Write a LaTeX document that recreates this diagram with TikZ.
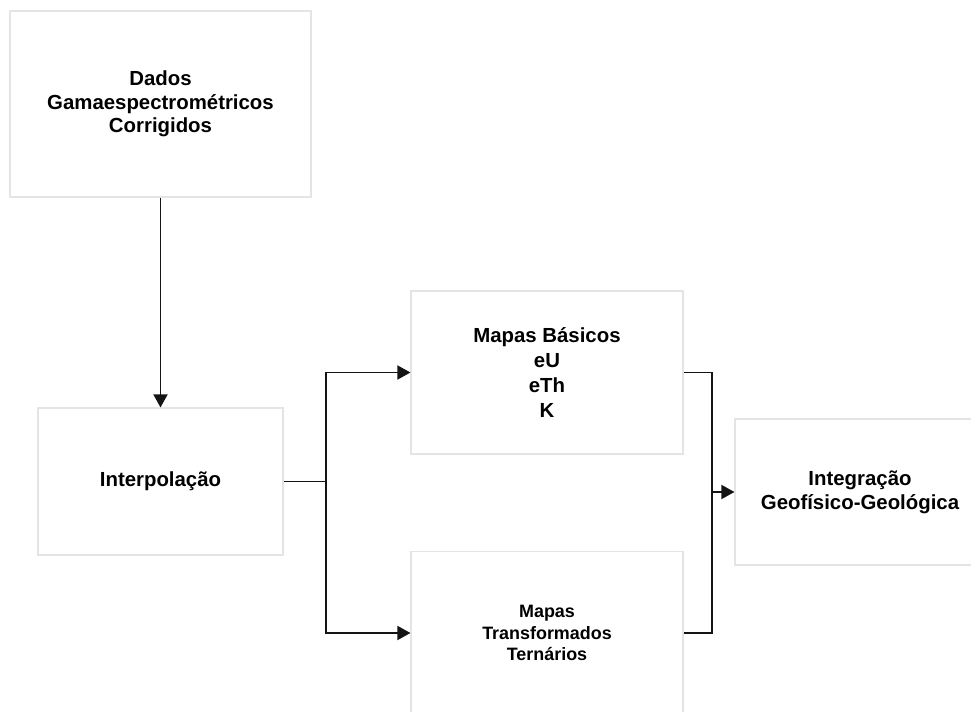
\documentclass[tikz,border=0pt]{standalone}
\usepackage{fontspec}
\setmainfont{Liberation Sans}
\usepackage{xcolor}
\usepackage{tikz}
\usetikzlibrary{arrows.meta,shadows}
\definecolor{FlowEdge}{HTML}{E4E4E4}
\definecolor{FlowLine}{HTML}{141414}

\begin{document}
\begin{tikzpicture}[x=1cm,y=1cm,
  flowbox/.style={draw=FlowEdge,line width=0.6pt,fill=white,align=center,
    inner sep=0pt,font=\bfseries\fontsize{11.6}{13.5}\selectfont,
    drop shadow={opacity=0.06,shadow xshift=0.6pt,shadow yshift=-0.6pt}},
  flowline/.style={draw=FlowLine,line width=1.1pt},
  flowarrow/.style={flowline,-{Triangle[length=7.5pt,width=8pt]}}]
\path[use as bounding box] (0,0) rectangle (19.42,14.22);
% boxes
\node[flowbox,minimum width=6.02cm,minimum height=3.72cm] (dados) at (3.21,12.14)
  {Dados\\Gamaespectrométricos\\Corrigidos};
\node[flowbox,minimum width=4.90cm,minimum height=2.94cm] (interp) at (3.21,4.59)
  {Interpolação};
\node[flowbox,minimum width=5.44cm,minimum height=3.26cm,
  font=\bfseries\fontsize{11.6}{14.2}\selectfont] (basicos) at (10.94,6.77)
  {Mapas Básicos\\eU\\eTh\\K};
\node[flowbox,minimum width=5.44cm,minimum height=3.26cm,
  font=\bfseries\fontsize{10.2}{12.2}\selectfont] (ternarios) at (10.94,1.56)
  {Mapas\\Transformados\\Ternários};
\node[flowbox,minimum width=5.00cm,minimum height=2.92cm] (integ) at (17.20,4.38)
  {Integração\\Geofísico-Geológica};
% connectors
\coordinate (split) at (6.52,4.59);
\coordinate (merge) at (14.24,4.38);
\draw[flowarrow] (dados) -- (interp);
\draw[flowline] (interp.east) -- (split);
\draw[flowarrow] (split) |- (basicos.west);
\draw[flowarrow] (split) |- (ternarios.west);
\draw[flowline] (basicos.east) -| (merge);
\draw[flowline] (ternarios.east) -| (merge);
\draw[flowarrow] (merge) -- (integ.west);
\end{tikzpicture}
\end{document}
